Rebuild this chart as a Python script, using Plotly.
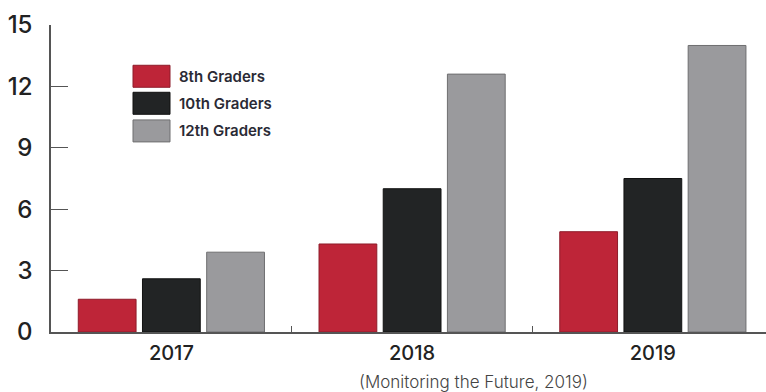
import plotly.graph_objects as go

years = ["2017", "2018", "2019"]
series_names = ["8th Graders", "10th Graders", "12th Graders"]
grade8 = [1.6, 4.3, 4.9]
grade10 = [2.6, 7.0, 7.5]
grade12 = [3.9, 12.6, 14.0]
y_ticks = [0, 3, 6, 9, 12, 15]

fills = ["#BE2538", "#222425", "#9A9A9D"]
edges = ["#8E1C2A", "#111111", "#6E6E70"]

fig = go.Figure()
for name, vals, fc, ec in zip(series_names, [grade8, grade10, grade12], fills, edges):
    fig.add_trace(go.Bar(x=years, y=vals, name=name, marker=dict(color=fc, line=dict(color=ec, width=1)),
                         showlegend=False))

# custom legend (swatches + labels)
leg_y = [0.833, 0.745, 0.655]
for name, fc, ec, yc in zip(series_names, fills, edges, leg_y):
    fig.add_shape(type="rect", xref="paper", yref="paper",
                  x0=(133 - 51) / 715, x1=(170 - 51) / 715, y0=yc - 11 / 307, y1=yc + 11 / 307,
                  fillcolor=fc, line=dict(color=ec, width=1))
    fig.add_annotation(xref="paper", yref="paper", x=(177 - 51) / 715, y=yc, text=name,
                       showarrow=False, xanchor="left", yanchor="middle",
                       font=dict(family="Inter", size=15, color="#2a2a35", weight=600))

fig.add_annotation(xref="paper", yref="paper", x=(473 - 51) / 715, y=-(382 - 332) / 307,
                   text="(Monitoring the Future, 2019)", showarrow=False,
                   xanchor="center", yanchor="middle",
                   font=dict(family="Inter", size=17, color="#444444", weight=300))

fig.update_layout(
    width=766, height=392,
    margin=dict(l=51, r=0, t=25, b=60),
    plot_bgcolor="white", paper_bgcolor="white",
    barmode="group", bargap=0.2, bargroupgap=0.1,
    xaxis=dict(range=[-0.5, 2.47], showline=True, linecolor="#555555", linewidth=1.5,
               ticks="inside", tickson="boundaries", ticklen=6, tickcolor="#555555",
               tickfont=dict(family="Inter", size=20, color="#222222", weight=500),
               ticklabelstandoff=2, showgrid=False, zeroline=False),
    yaxis=dict(range=[0, 15], tickvals=y_ticks, showline=True, linecolor="#555555", linewidth=1.5,
               ticks="inside", ticklen=17, tickcolor="#555555",
               tickfont=dict(family="Inter", size=24, color="#222222", weight=500),
               ticklabelstandoff=12, showgrid=False, zeroline=False),
)

fig.write_html("out.html")
